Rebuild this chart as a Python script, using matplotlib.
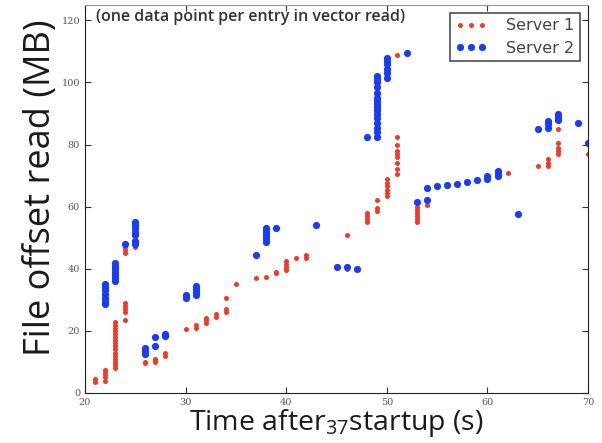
"""Scatter of file offsets read per server over time (vector read entries)."""
import matplotlib
matplotlib.use("Agg")
import matplotlib.pyplot as plt

# seconds after startup -> file offsets (MB) read at that second
server1_t = [21, 22, 23, 24, 25, 26, 27, 28, 30, 31, 32, 33, 34, 35, 37, 38, 39,
             40, 41, 42, 46, 48, 49, 50, 51, 53, 54, 62, 65, 66, 67, 70]
server1_mb = [
    [3.5, 4.5],
    [4, 5, 6, 7, 7.5],
    [8, 9, 10, 11, 12, 13, 14, 15, 16, 17, 18, 19, 20, 21, 22, 23],
    [23.5, 26, 27, 28, 29, 45, 46, 47],
    [47, 48],
    [9.5, 10],
    [10, 10.5, 11],
    [12, 13],
    [20.5],
    [21, 22],
    [22.5, 23.5, 24],
    [24.5, 25.5],
    [26, 27, 30.5],
    [35],
    [37],
    [37.5],
    [38.5, 39],
    [39.5, 40.5, 41.5, 42.5],
    [43.5],
    [43.5, 44.5],
    [40, 51],
    [55, 56, 57, 58],
    [58.5, 59.5, 62],
    [63.5, 64.5, 65.5, 66.5, 67.5, 69],
    [70.5, 72, 74, 76, 77, 78, 80, 82.5, 109],
    [55, 56, 57, 58, 59, 60],
    [60.5],
    [71],
    [73],
    [73, 74, 75.5],
    [77, 78, 79, 80.5, 85],
    [77],
]

server2_t = [22, 23, 24, 25, 26, 27, 28, 30, 31, 37, 38, 39, 43, 45, 46, 47, 48,
             49, 50, 52, 53, 54, 55, 56, 57, 58, 59, 60, 61, 63, 65, 66, 67, 69, 70]
server2_mb = [
    [28.5, 29.5, 30.5, 32, 33, 34, 35],
    [36, 37, 38, 39, 40, 41, 42],
    [48],
    [48, 49, 51, 52, 53, 54, 55],
    [12.5, 13.5, 14.5],
    [15, 18],
    [18.5, 19],
    [30.5, 31.5],
    [31.5, 32.5, 33.5, 34.5],
    [44.5],
    [48.5, 49.5, 50.5, 51.5, 52.5, 53],
    [53],
    [54],
    [40.5],
    [40.5],
    [40],
    [82.5],
    [82.5, 84, 85.5, 87, 88.5, 90, 91, 92, 93, 94, 95, 96.5, 98.5, 100, 101, 102],
    [101.5, 103, 104.5, 106, 107, 108],
    [109.5],
    [61.5],
    [62, 66],
    [66.8],
    [67],
    [67.4],
    [68],
    [68.5],
    [69, 70],
    [70, 70.5, 71.5],
    [57.5],
    [85],
    [85.5, 86.5, 87.5],
    [88, 89, 89.7],
    [87],
    [80.5],
]

RED = "#f03a26"
BLUE = "#1a3cf2"
LABEL_FONT = ["Open Sans", "DejaVu Sans"]


def flatten(ts, groups):
    xs, ys = [], []
    for t, vals in zip(ts, groups):
        xs.extend([t] * len(vals))
        ys.extend(vals)
    return xs, ys


def main():
    plt.rcParams["mathtext.fontset"] = "custom"
    plt.rcParams["mathtext.rm"] = "Open Sans"
    fig = plt.figure(figsize=(6.02, 4.43), dpi=100)
    ax = fig.add_axes([0.141, 0.113, 0.836, 0.876])

    x1, y1 = flatten(server1_t, server1_mb)
    x2, y2 = flatten(server2_t, server2_mb)
    ax.plot(x1, y1, "o", color=RED, ms=3.6, mec="none", label="Server 1")
    ax.plot(x2, y2, "o", color=BLUE, ms=5.2, mec="none", label="Server 2")

    ax.set_xlim(20, 70)
    ax.set_ylim(0, 125)
    ax.set_xticks([20, 30, 40, 50, 60, 70])
    ax.set_yticks([0, 20, 40, 60, 80, 100, 120])
    ax.tick_params(direction="in", top=True, right=True, length=4,
                   labelsize=7, colors="#333333", labelcolor="#555555")
    for lab in ax.get_xticklabels() + ax.get_yticklabels():
        lab.set_fontfamily("DejaVu Serif")
    for sp in ax.spines.values():
        sp.set_color("#222222")
    ax.spines["top"].set_color("#999999")

    ax.set_ylabel("File offset read (MB)", fontsize=26, family=LABEL_FONT,
                  color="#1a1a1a")
    ax.yaxis.set_label_coords(-0.052, 0.53)
    ax.set_xlabel(r"Time after$_{\mathregular{37}}$startup (s)", fontsize=20.5,
                  family=LABEL_FONT, color="#1a1a1a", labelpad=0)
    ax.text(0.022, 0.99, "(one data point per entry in vector read)",
            transform=ax.transAxes, ha="left", va="top", fontsize=11.5,
            family=LABEL_FONT, fontweight="semibold", color="#333333")

    leg = ax.legend(loc="upper right", numpoints=3, fontsize=11.5,
                    fancybox=False, borderaxespad=0.5, handletextpad=1.2,
                    labelspacing=0.45, borderpad=0.35)
    leg.get_frame().set_edgecolor("#222222")
    leg.get_frame().set_linewidth(1.2)
    for txt in leg.get_texts():
        txt.set_color("#444444")

    fig.savefig("out.png", dpi=100)


if __name__ == "__main__":
    main()
